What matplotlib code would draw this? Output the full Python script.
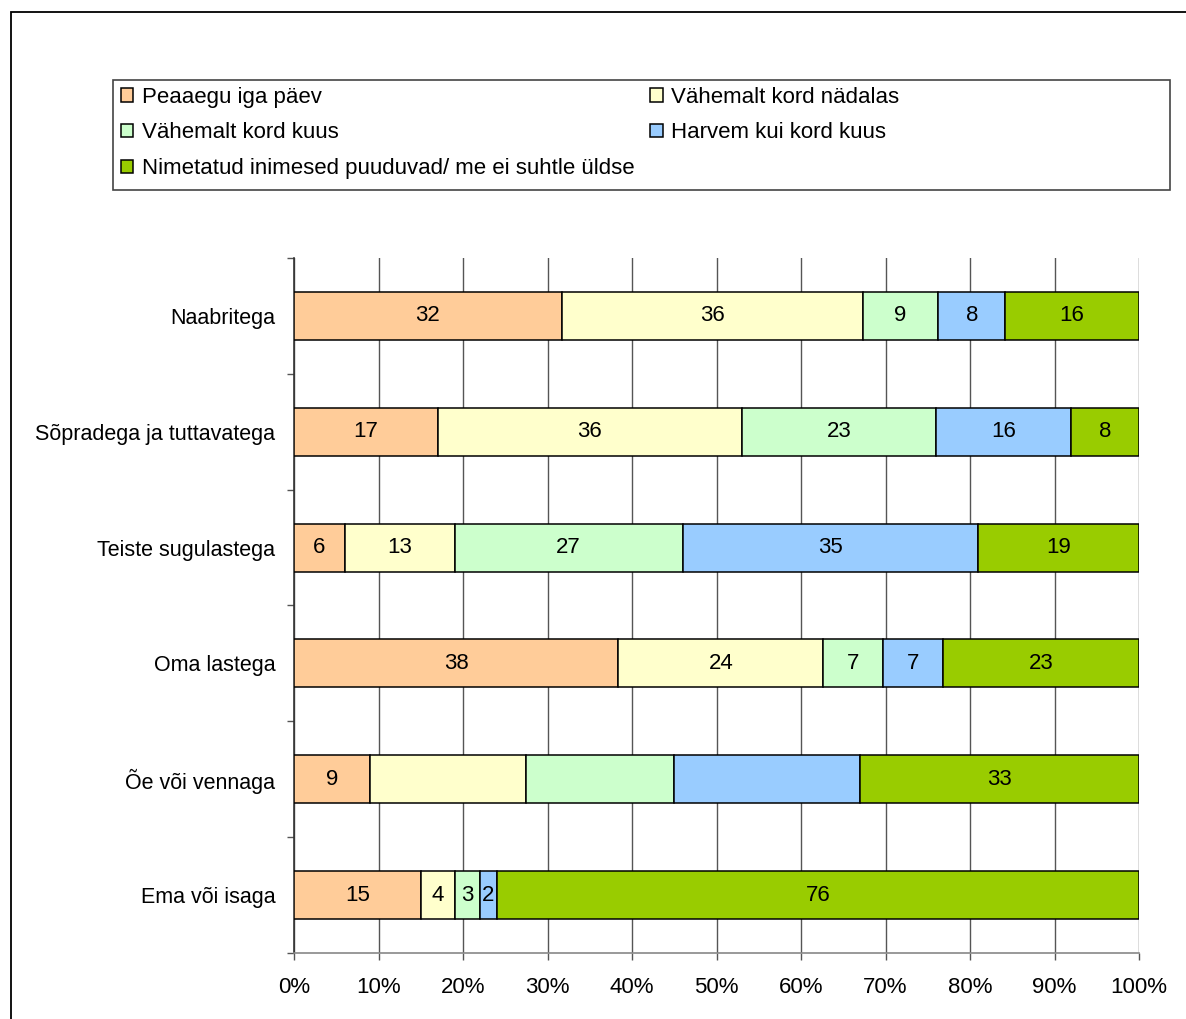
import numpy as np
import matplotlib.pyplot as plt
from matplotlib.patches import Rectangle

plt.rcParams['font.family'] = ['Liberation Sans', 'DejaVu Sans']

# Andmed (ülevalt alla)
categories = ["Naabritega", "Sõpradega ja tuttavatega", "Teiste sugulastega",
              "Oma lastega", "Õe või vennaga", "Ema või isaga"]
series_names = ["Peaaegu iga päev", "Vähemalt kord nädalas", "Vähemalt kord kuus",
                "Harvem kui kord kuus", "Nimetatud inimesed puuduvad/ me ei suhtle üldse"]
colors = ["#FFCC99", "#FFFFCC", "#CCFFCC", "#99CCFF", "#99CC00"]

daily = [32, 17, 6, 38, 9, 15]
weekly = [36, 36, 13, 24, 18.5, 4]
monthly = [9, 23, 27, 7, 17.5, 3]
rarely = [8, 16, 35, 7, 22, 2]
never = [16, 8, 19, 23, 33, 76]

# sildid, mida joonisel ei näidata (rida, seeria)
hidden_labels = {(4, 1), (4, 2), (4, 3)}

data = np.array([daily, weekly, monthly, rarely, never], dtype=float)
shares = data / data.sum(axis=0) * 100

FS = 16

fig = plt.figure(figsize=(11.86, 10.19), dpi=100)
ax = fig.add_axes([0.2479, 0.0648, 0.9604 - 0.2479, 0.7468 - 0.0648])

y = np.arange(len(categories))
left = np.zeros(len(categories))
handles = []
for i, (name, col) in enumerate(zip(series_names, colors)):
    bars = ax.barh(y, shares[i], left=left, height=0.415, color=col,
                   edgecolor="black", linewidth=1.1, label=name, zorder=3)
    handles.append(bars)
    for r in range(len(categories)):
        if (r, i) in hidden_labels:
            continue
        ax.text(left[r] + shares[i][r] / 2, y[r], f"{data[i][r]:g}",
                ha="center", va="center", fontsize=FS, zorder=4)
    left += shares[i]

ax.set_xlim(0, 100)
ax.set_ylim(len(categories) - 0.5, -0.5)
ax.set_xticks(np.arange(0, 101, 10))
ax.set_xticklabels([f"{v}%" for v in range(0, 101, 10)], fontsize=FS)
ax.set_yticks(y)
ax.set_yticklabels(categories, fontsize=15.5)
ax.set_yticks(np.arange(-0.5, len(categories)), minor=True)
ax.tick_params(axis="y", which="major", length=0, pad=13.5)
ax.tick_params(axis="y", which="minor", length=5, color="#555555", width=1)
ax.tick_params(axis="x", length=5, color="#555555", width=1, pad=12)
ax.grid(axis="x", color="#555555", linewidth=1, zorder=0)

for s in ["top", "right"]:
    ax.spines[s].set_visible(False)
ax.spines["left"].set_color("#333333")
ax.spines["bottom"].set_color("#888888")
ax.spines["left"].set_linewidth(1.2)
ax.spines["bottom"].set_linewidth(1.2)

# legend: read row-wise in the picture, matplotlib fills column-wise
order = [0, 2, 4, 1, 3]
leg = fig.legend([handles[k] for k in order], [series_names[k] for k in order],
                 ncol=2, loc="center left",
                 bbox_to_anchor=(121 / 1186, 1 - 133 / 1019),
                 fontsize=FS, frameon=False,
                 handlelength=0.55, handleheight=0.55, handletextpad=0.4,
                 labelspacing=0.66, columnspacing=0.7, borderpad=0, borderaxespad=0)
for h in leg.legend_handles:
    h.set_linewidth(1.1)

# legend frame
fig.patches.append(Rectangle((113 / 1186, 1 - 190 / 1019), 1057 / 1186, 110 / 1019,
                             transform=fig.transFigure, fill=False,
                             edgecolor="#444444", linewidth=1.2))

# outer frame
fig.patches.append(Rectangle((11 / 1186, -0.1), 1.2, 1 - 12 / 1019 + 0.1,
                             transform=fig.transFigure, fill=False,
                             edgecolor="black", linewidth=1.3))

fig.savefig("out.png", dpi=100)
